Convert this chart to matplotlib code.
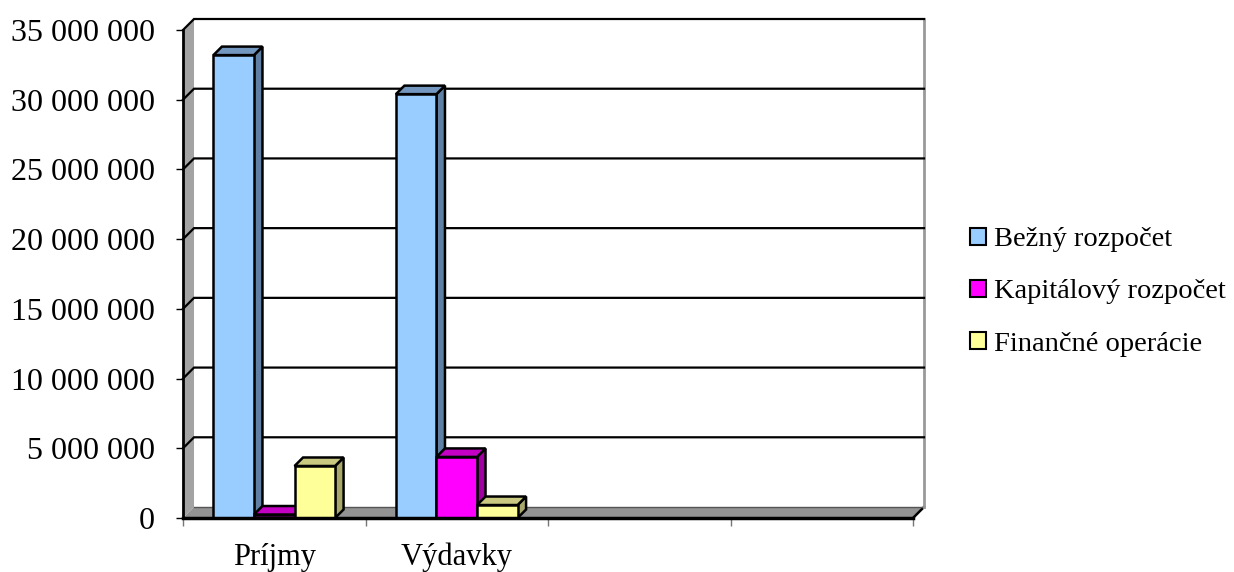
import matplotlib
matplotlib.use("Agg")
import matplotlib.pyplot as plt
from matplotlib.patches import Polygon, Patch

plt.rcParams["font.family"] = ["Liberation Serif", "DejaVu Serif"]

categories = ["Príjmy", "Výdavky", "", ""]
series_names = ["Bežný rozpočet", "Kapitálový rozpočet", "Finančné operácie"]
bezny = [33200000, 30400000]
kapitalovy = [250000, 4380000]
financne = [3730000, 930000]
y_ticks = [0, 5000000, 10000000, 15000000, 20000000, 25000000, 30000000, 35000000]

front_colors = ["#99CCFF", "#FF00FF", "#FFFF99"]
top_colors = ["#7497C0", "#C400C4", "#C9C982"]
side_colors = ["#5F7FA3", "#A000A0", "#A8A86A"]

fig = plt.figure(figsize=(12.34, 5.72), dpi=100)
ax = fig.add_axes([183 / 1234, 54 / 572, 730 / 1234, 488 / 572])
n_cat = len(categories)
ymax = y_ticks[-1]
ax.set_xlim(0, n_cat)
ax.set_ylim(0, ymax)

# pixel -> data conversion for the fake 3d depth
ux = 730 / n_cat
uy = 488 / ymax
wall_dx, wall_dy = 11 / ux, 11 / uy
bar_dx, bar_dy = 8.5 / ux, 8.5 / uy

lw = 1.8
# left wall
ax.add_patch(Polygon([(0, 0), (0, ymax), (wall_dx, ymax + wall_dy), (wall_dx, wall_dy)],
                     closed=True, facecolor="#A3A3A3", edgecolor="none", clip_on=False, zorder=1))
# floor
ax.add_patch(Polygon([(0, 0), (n_cat, 0), (n_cat + wall_dx, wall_dy), (wall_dx, wall_dy)],
                     closed=True, facecolor="#939393", edgecolor="none", clip_on=False, zorder=1))
ax.plot([n_cat, n_cat + wall_dx], [0, wall_dy], color="black", lw=lw, clip_on=False, zorder=2)
ax.plot([wall_dx, n_cat + wall_dx], [wall_dy, wall_dy], color="#555555", lw=1, clip_on=False, zorder=2)
# right edge of back wall
ax.plot([n_cat + wall_dx, n_cat + wall_dx], [wall_dy, ymax + wall_dy], color="#999999", lw=2,
        clip_on=False, zorder=2)

# gridlines on wall
for t in y_ticks[1:]:
    ax.plot([0, wall_dx, n_cat + wall_dx], [t, t + wall_dy, t + wall_dy], color="black", lw=1.6,
            clip_on=False, zorder=2, solid_joinstyle="miter")

# bars
w = 1 / 4.5
data = [bezny, kapitalovy, financne]
z = 3
for i in range(len(bezny)):
    for j, vals in enumerate(data):
        h = vals[i]
        x0 = i + 0.75 * w + j * w
        ax.add_patch(Polygon([(x0 + w, 0), (x0 + w, h), (x0 + w + bar_dx, h + bar_dy), (x0 + w + bar_dx, bar_dy)],
                             closed=True, facecolor=side_colors[j], edgecolor="black", lw=lw,
                             clip_on=False, zorder=z))
        ax.add_patch(Polygon([(x0, h), (x0 + w, h), (x0 + w + bar_dx, h + bar_dy), (x0 + bar_dx, h + bar_dy)],
                             closed=True, facecolor=top_colors[j], edgecolor="black", lw=lw,
                             clip_on=False, zorder=z))
        ax.bar(x0, h, width=w, align="edge", color=front_colors[j], edgecolor="black", lw=lw,
               zorder=z + 0.5, clip_on=False)
        z += 1

for s in ["top", "right"]:
    ax.spines[s].set_visible(False)
ax.spines["left"].set_linewidth(2)
ax.spines["bottom"].set_linewidth(2.5)
ax.spines["left"].set_zorder(2.5)
ax.spines["bottom"].set_zorder(50)

ax.set_yticks(y_ticks)
ax.set_yticklabels([f"{v:,.0f}".replace(",", " ") for v in y_ticks])
ax.tick_params(axis="y", length=5, width=1, pad=15, labelsize=23)
ax.set_xticks(range(n_cat + 1))
ax.set_xticklabels([])
ax.tick_params(axis="x", which="major", length=6, width=1, color="#777777")
ax.set_xticks([i + 0.5 for i in range(n_cat)], minor=True)
ax.set_xticklabels(categories, minor=True)
ax.tick_params(axis="x", which="minor", length=0, pad=18, labelsize=22)

handles = [Patch(facecolor=c, edgecolor="black", lw=1.5) for c in front_colors]
fig.legend(handles, series_names, loc="center left", bbox_to_anchor=(970 / 1234, 1 - 292 / 572),
           frameon=False, fontsize=20.5, handlelength=0.55, handleheight=0.55, handletextpad=0.3,
           labelspacing=0.95, borderpad=0, borderaxespad=0)

fig.savefig("out.png", dpi=100)
